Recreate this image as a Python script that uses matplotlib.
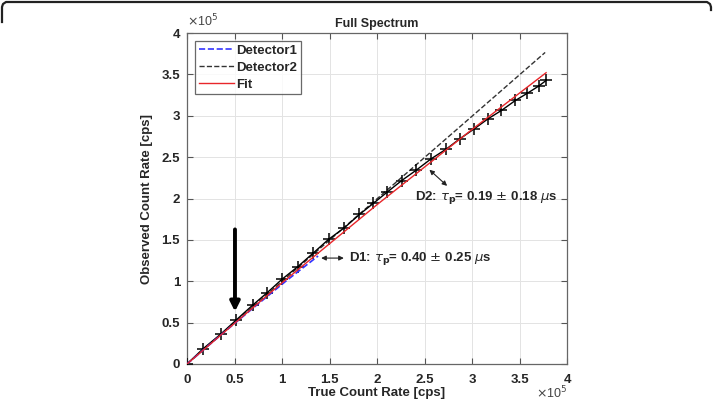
import matplotlib
matplotlib.use("Agg")
import matplotlib.pyplot as plt
import numpy as np
from matplotlib.lines import Line2D

# values in units of 1e5 cps
meas_true = [0, 0.17, 0.355, 0.52, 0.69, 0.845, 1.0, 1.167, 1.325, 1.49, 1.657, 1.815,
             1.96, 2.11, 2.26, 2.41, 2.57, 2.73, 2.87, 3.025, 3.17, 3.31, 3.457, 3.58,
             3.70, 3.78]
meas_obs = [0, 0.185, 0.361, 0.534, 0.71, 0.863, 1.024, 1.177, 1.337, 1.506, 1.647, 1.807,
            1.94, 2.08, 2.217, 2.34, 2.48, 2.598, 2.72, 2.843, 2.964, 3.064, 3.185, 3.27,
            3.357, 3.426]

det1_true = [0, 0.35, 0.7, 1.05, 1.38]
det1_obs = [0, 0.345, 0.68, 1.01, 1.305]

det2_true = [0, 1.0, 2.0, 3.0, 3.77]
det2_obs = [0, 0.998, 1.996, 2.994, 3.765]

fit_true = [0, 1.0, 2.0, 3.0, 3.78]
fit_obs = [0, 0.981, 1.925, 2.834, 3.52]

ticks = [0, 0.5, 1, 1.5, 2, 2.5, 3, 3.5, 4]
tick_labels = ['0', '0.5', '1', '1.5', '2', '2.5', '3', '3.5', '4']

txt_col = '#262626'
plt.rcParams['font.family'] = ['Liberation Sans', 'DejaVu Sans']

fig = plt.figure(figsize=(7.13, 4.04), dpi=100)
ax = fig.add_axes([187 / 713, 1 - 364 / 404, 380 / 713, 331 / 404])

ax.plot(meas_true, meas_obs, color='black', lw=1.0, marker='+', ms=8, mew=1.1, zorder=4)
ax.plot(det1_true, det1_obs, color='#3333ff', ls='--', lw=1.2, label='Detector1', zorder=5)
ax.plot(det2_true, det2_obs, color='#333333', ls='--', lw=1.0, label='Detector2', zorder=3)
ax.plot(fit_true, fit_obs, color='#e8262a', lw=1.0, label='Fit', zorder=6)

ax.set_xlim(0, 4)
ax.set_ylim(0, 4)
ax.set_xticks(ticks)
ax.set_yticks(ticks)
ax.set_xticklabels(tick_labels, fontweight='bold', color=txt_col, fontsize=9.5)
ax.set_yticklabels(tick_labels, fontweight='bold', color=txt_col, fontsize=9.5)
ax.tick_params(direction='in', top=True, right=True, length=4, color='#555555', pad=5)
ax.tick_params(axis='x', pad=7)
ax.grid(True, color='#e3e3e3', lw=0.7)
ax.set_axisbelow(True)
for s in ax.spines.values():
    s.set_color('#666666')
    s.set_linewidth(0.9)

ax.set_xlabel('True Count Rate [cps]', fontweight='bold', color=txt_col, fontsize=9.5, labelpad=1)
ax.set_ylabel('Observed Count Rate [cps]', fontweight='bold', color=txt_col, fontsize=9.5, labelpad=6)
ax.set_title('Full Spectrum', fontweight='bold', color=txt_col, fontsize=9, pad=4)

ax.text(0.0, 1.012, r'$\times$10$^5$', transform=ax.transAxes, fontsize=9, color='#444444',
        ha='left', va='bottom')
ax.text(1.0, -0.112, r'$\times$10$^5$', transform=ax.transAxes, fontsize=9, color='#444444',
        ha='right', va='bottom')

leg = ax.legend(loc='upper left', bbox_to_anchor=(0.015, 0.985), fontsize=9.5, frameon=True,
                fancybox=False, edgecolor='#444444', handlelength=2.6, handletextpad=0.2,
                borderpad=0.3, labelspacing=0.35, borderaxespad=0.2)
leg.get_frame().set_linewidth(0.9)
for t in leg.get_texts():
    t.set_fontweight('bold')
    t.set_color(txt_col)

# annotations
ax.annotate('', xy=(1.383, 1.28), xytext=(1.68, 1.28),
            arrowprops=dict(arrowstyle='<|-|>', color='#222222', lw=0.8, mutation_scale=7))
ax.text(1.71, 1.28, r'D1: $\tau_\mathbf{p}$= 0.40 $\pm$ 0.25 $\mu$s', fontweight='bold',
        fontsize=9.5, color=txt_col, va='center', ha='left')
ax.annotate('', xy=(2.53, 2.37), xytext=(2.76, 2.13),
            arrowprops=dict(arrowstyle='<|-|>', color='#222222', lw=0.8, mutation_scale=7))
ax.text(2.40, 2.01, r'D2: $\tau_\mathbf{p}$= 0.19 $\pm$ 0.18 $\mu$s', fontweight='bold',
        fontsize=9.5, color=txt_col, va='center', ha='left')
ax.annotate('', xy=(0.505, 0.6), xytext=(0.505, 1.66),
            arrowprops=dict(arrowstyle='-|>', color='black', lw=2.8, mutation_scale=14))

# rounded top frame
fx = [2, 2, 3, 6, 707, 710, 711, 711]
fy = [22, 7, 4, 2, 2, 4, 7, 10]
fig.add_artist(Line2D([x / 713 for x in fx], [1 - y / 404 for y in fy],
                      color='#222222', lw=1.6, transform=fig.transFigure))

fig.savefig('out.png', dpi=100)
